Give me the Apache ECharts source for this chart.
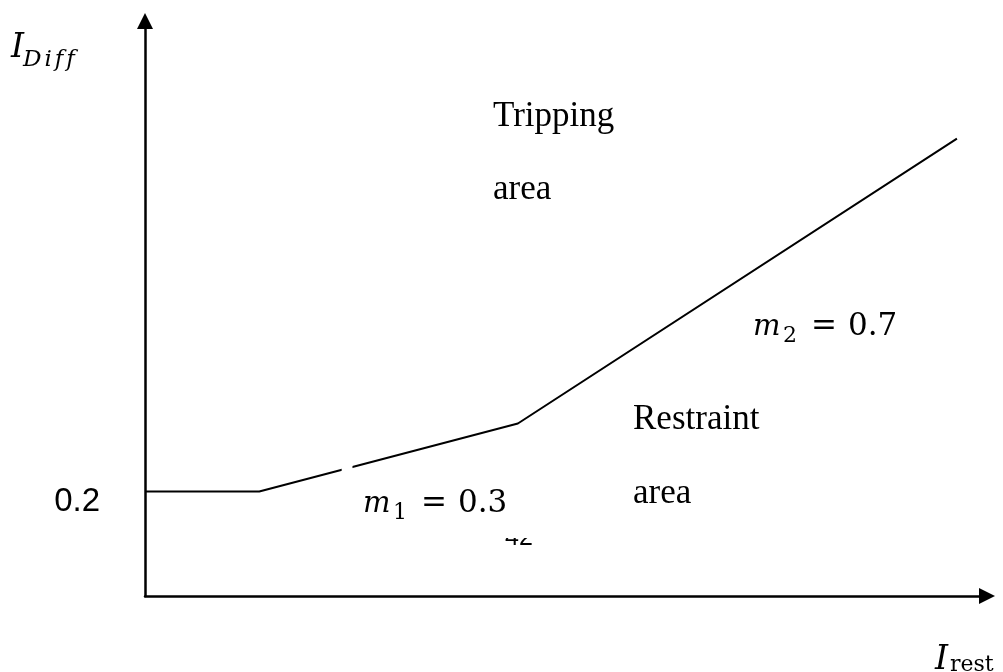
<!DOCTYPE html>
<html>
<head>
<meta charset="utf-8">
<script src="https://cdn.jsdelivr.net/npm/echarts@6/dist/echarts.min.js"></script>
<style>
  html, body { margin: 0; padding: 0; background: #fff; }
  #chart { width: 1003px; height: 672px; }
</style>
</head>
<body>
<div id="chart"></div>
<script>
// Differential protection characteristic: I_Diff versus I_rest
const irest = [0, 0.19, 0.62, 1.35];
const idiff = [0.2, 0.2, 0.33, 0.875];
const pickupTick = 0.2;           // the only labelled value on the vertical axis
const slopeLabels = ['0.3', '0.7'];
const regionLabels = [['Tripping', 'area'], ['Restraint', 'area']];
const gapRest = [0.327, 0.345];   // short break in the characteristic line

const chart = echarts.init(document.getElementById('chart'), null, { renderer: 'canvas' });

const axisLine = {
  show: true,
  symbol: ['none', 'triangle'],
  symbolSize: [16, 16],
  lineStyle: { color: '#000', width: 2.5 }
};

chart.setOption({
  animation: false,
  backgroundColor: '#fff',
  grid: { left: 145, top: 21, right: 16, bottom: 76 },
  xAxis: {
    type: 'value', min: 0, max: 1.4,
    axisLine: axisLine,
    axisTick: { show: false }, axisLabel: { show: false }, splitLine: { show: false }
  },
  yAxis: {
    type: 'value', min: 0, max: 1.1, interval: 0.1,
    axisLine: axisLine,
    axisTick: { show: false }, splitLine: { show: false },
    axisLabel: {
      margin: 45,
      color: '#000',
      fontFamily: 'Liberation Sans',
      fontSize: 33,
      verticalAlign: 'top',
      lineHeight: 20,
      formatter: v => (Math.abs(v - pickupTick) < 1e-6 ? String(pickupTick) : '')
    }
  },
  series: [{
    type: 'line',
    data: irest.map((x, i) => [x, idiff[i]]),
    showSymbol: false,
    silent: true,
    lineStyle: { color: '#000', width: 2 },
    z: 2
  }]
});

function txt(text, x, y, font, extra) {
  const el = {
    type: 'text', x: x, y: y, z: 10, silent: true,
    style: {
      text: text, font: font, fill: '#000',
      align: 'left', verticalAlign: 'middle',
      textAlign: 'left', textVerticalAlign: 'middle'
    }
  };
  if (extra) Object.assign(el.style, extra);
  return el;
}

const serif = '35px "Liberation Serif"';
const mathIt = 'italic 29px "DejaVu Serif"';
const mathUp = '31px "DejaVu Serif"';
const mathSub = '22px "DejaVu Serif"';

function slopeLabel(idx, x0, yBase) {
  return [
    txt('m', x0, yBase - 8, mathIt),
    txt(String(idx + 1), x0 + 30, yBase + 1, mathSub),
    txt('=', x0 + 58, yBase - 8, mathUp),
    txt(slopeLabels[idx], x0 + 95, yBase - 8, mathUp)
  ];
}

// break in the line: white patch over the gap span
const p0 = chart.convertToPixel({ gridIndex: 0 }, [gapRest[0], 0.27]);
const p1 = chart.convertToPixel({ gridIndex: 0 }, [gapRest[1], 0.22]);

const subDiff = {
  text: '{s|D}{s|i}{s|f}{e|f}',
  rich: {
    s: { font: 'italic 23px "DejaVu Serif"', fill: '#000', padding: [0, 3, 0, 0] },
    e: { font: 'italic 23px "DejaVu Serif"', fill: '#000' }
  }
};

const elements = [
  { type: 'rect', z: 20, silent: true,
    shape: { x: p0[0], y: p0[1], width: p1[0] - p0[0], height: p1[1] - p0[1] },
    style: { fill: '#fff' } },

  // axis names
  txt('I', 11, 48, 'italic 33px "DejaVu Serif"'),
  txt('', 23, 60, 'italic 23px "DejaVu Serif"', subDiff),
  txt('I', 935, 660, 'italic 33px "DejaVu Serif"'),
  txt('rest', 950, 665, '22px "DejaVu Serif"'),

  // region labels
  txt(regionLabels[0][0], 493, 117, serif),
  txt(regionLabels[0][1], 493, 190, serif),
  txt(regionLabels[1][0], 633, 420, serif),
  txt(regionLabels[1][1], 633, 494, serif),

  // page number, mostly hidden behind a white box
  txt('42', 505, 538, '25px "Liberation Sans"'),
  { type: 'rect', z: 15, silent: true,
    shape: { x: 498, y: 524, width: 44, height: 14 }, style: { fill: '#fff' } }
].concat(slopeLabel(0, 363, 512), slopeLabel(1, 753, 335));

chart.setOption({ graphic: { elements: elements } });
</script>
</body>
</html>
